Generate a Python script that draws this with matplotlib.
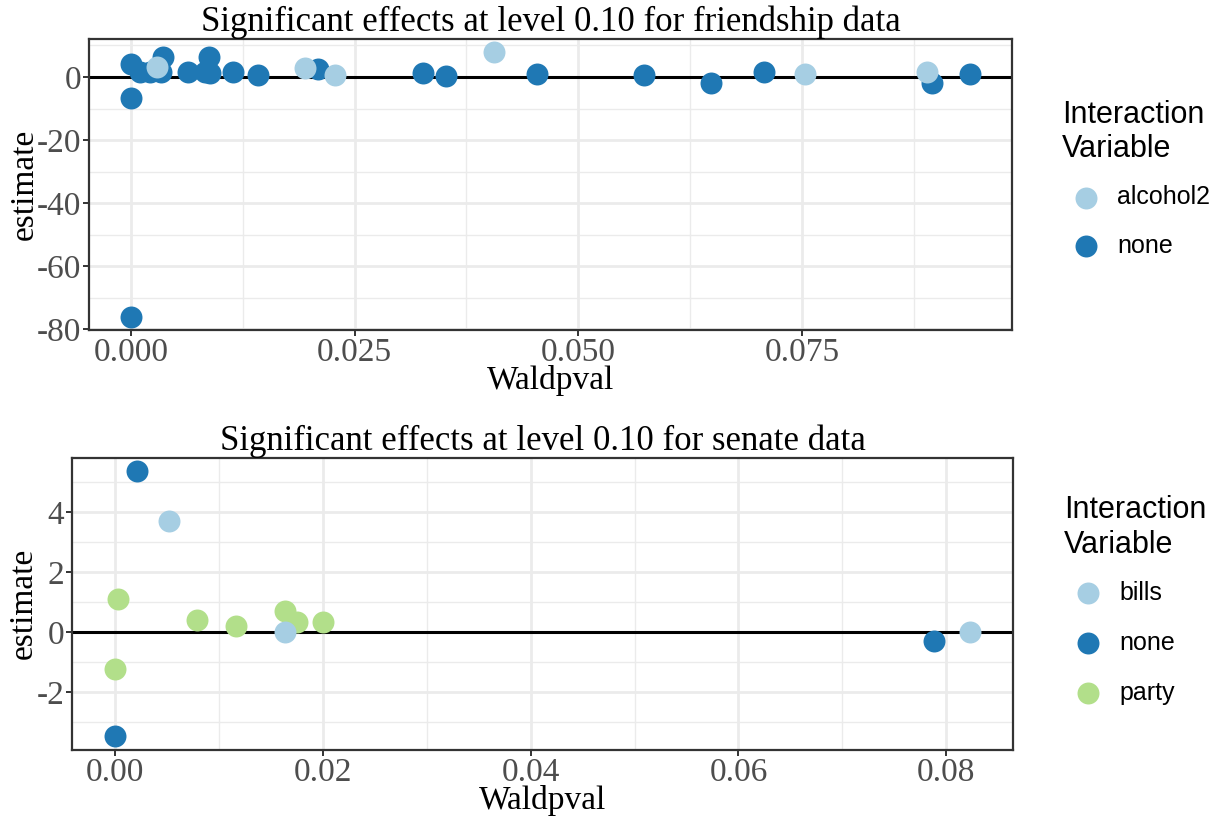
import numpy as np
import matplotlib.pyplot as plt
from matplotlib.ticker import MultipleLocator


######################
# friendship network: significant effects (p < 0.10)
friend_pval_none = [0.0, 0.0, 0.0, 0.0010, 0.0021, 0.0034, 0.0036, 0.0064, 0.0083,
                    0.0087, 0.0088, 0.0114, 0.0142, 0.0209, 0.0326, 0.0352, 0.0454,
                    0.0574, 0.0648, 0.0708, 0.0895, 0.0938]
friend_est_none = [4.1, -6.7, -76.0, 1.5, 1.5, 1.5, 6.4, 1.5, 1.5,
                   6.2, 1.2, 1.5, 0.7, 2.4, 1.2, 0.4, 0.8,
                   0.6, -1.8, 1.5, -1.8, 0.8]
friend_pval_alcohol = [0.0029, 0.0195, 0.0228, 0.0406, 0.0754, 0.0890]
friend_est_alcohol = [3.25, 2.9, 0.6, 8.0, 0.8, 1.7]

# senate network
senate_pval_bills = [0.0052, 0.0164, 0.0823]
senate_est_bills = [3.68, 0.0, 0.0]
senate_pval_none = [0.0021, 0.0, 0.0788]
senate_est_none = [5.37, -3.48, -0.30]
senate_pval_party = [0.00035, 0.0, 0.0079, 0.0117, 0.0164, 0.0175, 0.0200]
senate_est_party = [1.08, -1.25, 0.38, 0.19, 0.70, 0.33, 0.33]
##########################

LIGHT_BLUE = '#a6cee3'
DARK_BLUE = '#1f78b4'
LIGHT_GREEN = '#b2df8a'

plt.rcParams['axes.unicode_minus'] = False
SERIF = 'Liberation Serif'
SANS = 'Liberation Sans'


def style_axes(ax, xmajor, ymajor):
    ax.xaxis.set_major_locator(MultipleLocator(xmajor))
    ax.xaxis.set_minor_locator(MultipleLocator(xmajor / 2))
    ax.yaxis.set_major_locator(MultipleLocator(ymajor))
    ax.yaxis.set_minor_locator(MultipleLocator(ymajor / 2))
    ax.grid(which='major', color='#ebebeb', lw=2.0, zorder=0)
    ax.grid(which='minor', color='#ebebeb', lw=1.0, zorder=0)
    ax.set_axisbelow(True)
    for sp in ax.spines.values():
        sp.set_color('#333333')
        sp.set_linewidth(1.6)
    ax.tick_params(which='major', length=4, width=1.4, color='#333333',
                   labelcolor='#4d4d4d', labelsize=24, pad=1.5)
    ax.tick_params(which='minor', length=0)
    for lab in ax.get_xticklabels() + ax.get_yticklabels():
        lab.set_family(SERIF)
    ax.axhline(0, color='black', lw=2.2, zorder=1)
    ax.margins(x=0.05, y=0.05)


def add_legend(ax, handles, labels, x, y, spacing):
    leg = ax.legend(handles, labels, title='Interaction\nVariable',
                    loc='upper left', bbox_to_anchor=(x, y),
                    bbox_transform=fig.transFigure, frameon=False,
                    borderaxespad=0, borderpad=0, alignment='left',
                    handlelength=1.9, handletextpad=0.3, labelspacing=spacing,
                    prop={'family': SANS, 'size': 18},
                    title_fontproperties={'family': SANS, 'size': 22})
    leg.get_title().set_linespacing(1.2)
    leg._legend_box.sep = 15
    return leg


fig = plt.figure(figsize=(12.22, 8.18), dpi=100)
ax1 = fig.add_axes([0.0728, 0.5966, 0.7554, 0.3563])
ax2 = fig.add_axes([0.0589, 0.0837, 0.7701, 0.3570])

ms = 250

h_alc = ax1.scatter(friend_pval_alcohol, friend_est_alcohol, s=ms, color=LIGHT_BLUE,
                    lw=0, zorder=3)
h_none = ax1.scatter(friend_pval_none, friend_est_none, s=ms, color=DARK_BLUE,
                     lw=0, zorder=2.5)
style_axes(ax1, 0.025, 20)
ax1.set_title('Significant effects at level 0.10 for friendship data',
              family=SERIF, fontsize=25, pad=2.5)
ax1.set_xlabel('Waldpval', family=SERIF, fontsize=24, labelpad=-2)
ax1.set_ylabel('estimate', family=SERIF, fontsize=24, labelpad=-2)
add_legend(ax1, [h_alc, h_none], ['alcohol2', 'none'], 1062 / 1222, 0.878, 0.99)

h_bills = ax2.scatter(senate_pval_bills, senate_est_bills, s=ms, color=LIGHT_BLUE,
                      lw=0, zorder=3)
h_none2 = ax2.scatter(senate_pval_none, senate_est_none, s=ms, color=DARK_BLUE,
                      lw=0, zorder=3)
h_party = ax2.scatter(senate_pval_party, senate_est_party, s=ms, color=LIGHT_GREEN,
                      lw=0, zorder=2.5)
style_axes(ax2, 0.02, 2)
ax2.set_title('Significant effects at level 0.10 for senate data',
              family=SERIF, fontsize=25, pad=2.5)
ax2.set_xlabel('Waldpval', family=SERIF, fontsize=24, labelpad=-2)
ax2.set_ylabel('estimate', family=SERIF, fontsize=24, labelpad=-2)
add_legend(ax2, [h_bills, h_none2, h_party], ['bills', 'none', 'party'],
           1064 / 1222, 0.3945, 1.04)

fig.savefig('out.png', dpi=100)
